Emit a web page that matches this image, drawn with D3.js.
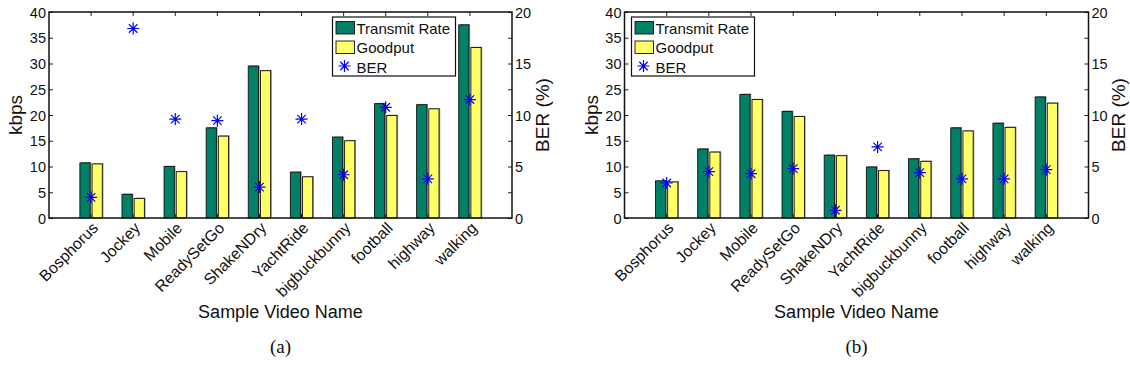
<!DOCTYPE html>
<html>
<head>
<meta charset="utf-8">
<script src="https://cdn.jsdelivr.net/npm/d3@7"></script>
<style>
  body { margin: 0; background: #fff; }
  svg { display: block; font-family: "Liberation Sans", Arial, Helvetica, sans-serif; }
</style>
</head>
<body>
<div class="chart"></div>
<script>
const categories = ["Bosphorus", "Jockey", "Mobile", "ReadySetGo", "ShakeNDry",
                    "YachtRide", "bigbuckbunny", "football", "highway", "walking"];

// panel (a)
const rateA    = [10.7, 4.6, 10.0, 17.5, 29.5, 8.9, 15.7, 22.2, 22.0, 37.5];
const goodputA = [10.5, 3.8,  9.0, 15.9, 28.6, 8.0, 15.0, 19.9, 21.2, 33.1];
const berA     = [2.0, 18.4, 9.6, 9.45, 3.0, 9.6, 4.2, 10.75, 3.8, 11.5];

// panel (b)
const rateB    = [7.2, 13.4, 24.0, 20.7, 12.2, 9.9, 11.5, 17.5, 18.4, 23.5];
const goodputB = [7.0, 12.8, 23.0, 19.7, 12.1, 9.2, 11.0, 16.9, 17.6, 22.3];
const berB     = [3.4, 4.5, 4.3, 4.8, 0.75, 6.9, 4.4, 3.8, 3.8, 4.7];

const kbpsTicks = [0, 5, 10, 15, 20, 25, 30, 35, 40];
const berTicks = [0, 2.5, 5, 7.5, 10, 12.5, 15, 17.5, 20];
const legendNames = ["Transmit Rate", "Goodput", "BER"];

const W = 1130, H = 381;
const green = "#008066", yellow = "#ffff66", blue = "#0000ff";

const svg = d3.select(".chart").append("svg")
    .attr("width", W)
    .attr("height", H);

function asterisk(r) {
  const d = r * Math.SQRT1_2;
  return `M${-r},0L${r},0M0,${-r}L0,${r}M${-d},${-d}L${d},${d}M${-d},${d}L${d},${-d}`;
}

function drawPanel(opt) {
  const left = opt.left, right = opt.right, top = 12, bottom = 218;
  const g = svg.append("g");

  const step = (right - left) / (categories.length + 1);
  const x = d3.scaleBand()
      .domain(categories)
      .range([left + step / 2, right - step / 2])
      .padding(0);
  const xs = d3.scaleBand()
      .domain(["rate", "goodput"])
      .range([x.bandwidth() / 2 - 11.2, x.bandwidth() / 2 + 11.2])
      .paddingInner(0.16);
  const y = d3.scaleLinear().domain([0, 40]).range([bottom, top]);
  const y2 = d3.scaleLinear().domain([0, 20]).range([bottom, top]);

  const rows = categories.map((c, i) => ({
    name: c, rate: opt.rate[i], goodput: opt.goodput[i], ber: opt.ber[i]
  }));

  // bars (gray shadow first, then bar)
  const groups = g.selectAll(".grp")
    .data(rows)
    .enter().append("g")
      .attr("class", "grp")
      .attr("transform", d => `translate(${x(d.name)},0)`);

  [["rate", green], ["goodput", yellow]].forEach(([key, col]) => {
    groups.append("rect")
        .attr("x", xs(key) + 1.2)
        .attr("y", d => y(d[key]) - 0.8)
        .attr("width", xs.bandwidth())
        .attr("height", d => bottom - y(d[key]) + 0.8)
        .attr("fill", "#9a9a9a");
    groups.append("rect")
        .attr("x", xs(key))
        .attr("y", d => y(d[key]))
        .attr("width", xs.bandwidth())
        .attr("height", d => bottom - y(d[key]))
        .attr("fill", col)
        .attr("stroke", "#111")
        .attr("stroke-width", 0.9);
  });

  // axes with inward ticks
  const axisL = d3.axisLeft(y).tickValues(kbpsTicks).tickSizeInner(-4).tickSizeOuter(0).tickPadding(3);
  const axisR = d3.axisRight(y2).tickValues(berTicks).tickSizeInner(-4).tickSizeOuter(0).tickPadding(3)
      .tickFormat(d => d % 5 === 0 ? d : "");
  const axisT = d3.axisTop(x).tickSizeInner(-4).tickSizeOuter(0).tickFormat("");
  const axisB = d3.axisBottom(x).tickSizeInner(-4).tickSizeOuter(0).tickFormat("");

  const gl = g.append("g").attr("transform", `translate(${left},0)`).call(axisL);
  const gr = g.append("g").attr("transform", `translate(${right},0)`).call(axisR);
  g.append("g").attr("transform", `translate(0,${top})`).call(axisT);
  g.append("g").attr("transform", `translate(0,${bottom})`).call(axisB);

  g.selectAll(".domain").remove();
  g.selectAll(".tick line").attr("stroke", "#222").attr("stroke-width", 1);
  g.selectAll(".tick text").attr("fill", "#111").attr("font-size", 14.5)
      .attr("font-family", "Liberation Sans, Arial, sans-serif");
  gl.selectAll(".tick text").attr("dy", "0.36em");
  gr.selectAll(".tick text").attr("dy", "0.36em");

  // frame
  g.append("rect")
      .attr("x", left).attr("y", top)
      .attr("width", right - left).attr("height", bottom - top)
      .attr("fill", "none").attr("stroke", "#111").attr("stroke-width", 1.5);

  // BER markers
  g.selectAll(".ber")
    .data(rows)
    .enter().append("path")
      .attr("class", "ber")
      .attr("transform", d => `translate(${x(d.name) + x.bandwidth() / 2},${y2(d.ber)})`)
      .attr("d", asterisk(6))
      .attr("stroke", blue)
      .attr("stroke-width", 1.2)
      .attr("fill", "none");

  // rotated category labels
  g.selectAll(".xlab")
    .data(categories)
    .enter().append("text")
      .attr("class", "xlab")
      .attr("transform", d => `translate(${x(d) + x.bandwidth() / 2 + 8},${bottom + 11}) rotate(-45)`)
      .attr("text-anchor", "end")
      .attr("font-size", 15.8)
      .attr("fill", "#111")
      .text(d => d);

  // axis titles
  g.append("text")
      .attr("transform", `translate(${left - 27},${(top + bottom) / 2}) rotate(-90)`)
      .attr("text-anchor", "middle")
      .attr("font-size", 19)
      .attr("fill", "#111")
      .text("kbps");
  g.append("text")
      .attr("transform", `translate(${right + 36.5},${(top + bottom) / 2}) rotate(-90)`)
      .attr("text-anchor", "middle")
      .attr("font-size", 19)
      .attr("fill", "#111")
      .text("BER (%)");
  g.append("text")
      .attr("x", (left + right) / 2)
      .attr("y", 318)
      .attr("text-anchor", "middle")
      .attr("font-size", 18)
      .attr("fill", "#111")
      .text("Sample Video Name");
  g.append("text")
      .attr("x", (left + right) / 2)
      .attr("y", 353)
      .attr("text-anchor", "middle")
      .attr("font-size", 19)
      .attr("font-family", "Liberation Serif, Times New Roman, serif")
      .attr("fill", "#111")
      .text(opt.tag);

  // legend
  const lg = g.append("g").attr("transform", `translate(${opt.legX},17)`);
  lg.append("rect")
      .attr("width", 123).attr("height", 59)
      .attr("fill", "#fff").attr("stroke", "#111").attr("stroke-width", 1.2);
  [green, yellow].forEach((col, i) => {
    lg.append("rect")
        .attr("x", 3.5).attr("y", 4.5 + i * 19.5)
        .attr("width", 18.5).attr("height", 12.5)
        .attr("fill", col).attr("stroke", "#111").attr("stroke-width", 0.9);
  });
  lg.append("path")
      .attr("transform", "translate(12,49)")
      .attr("d", asterisk(6))
      .attr("stroke", blue).attr("stroke-width", 1.2).attr("fill", "none");
  lg.selectAll(".ltxt")
    .data(legendNames)
    .enter().append("text")
      .attr("class", "ltxt")
      .attr("x", 24)
      .attr("y", (d, i) => 16.5 + i * 19.5)
      .attr("font-size", 15)
      .attr("fill", "#111")
      .text(d => d);
}

drawPanel({ left: 49, right: 512, rate: rateA, goodput: goodputA, ber: berA, tag: "(a)", legX: 332.5 });
drawPanel({ left: 624.5, right: 1088.5, rate: rateB, goodput: goodputB, ber: berB, tag: "(b)", legX: 631.5 });
</script>
</body>
</html>
